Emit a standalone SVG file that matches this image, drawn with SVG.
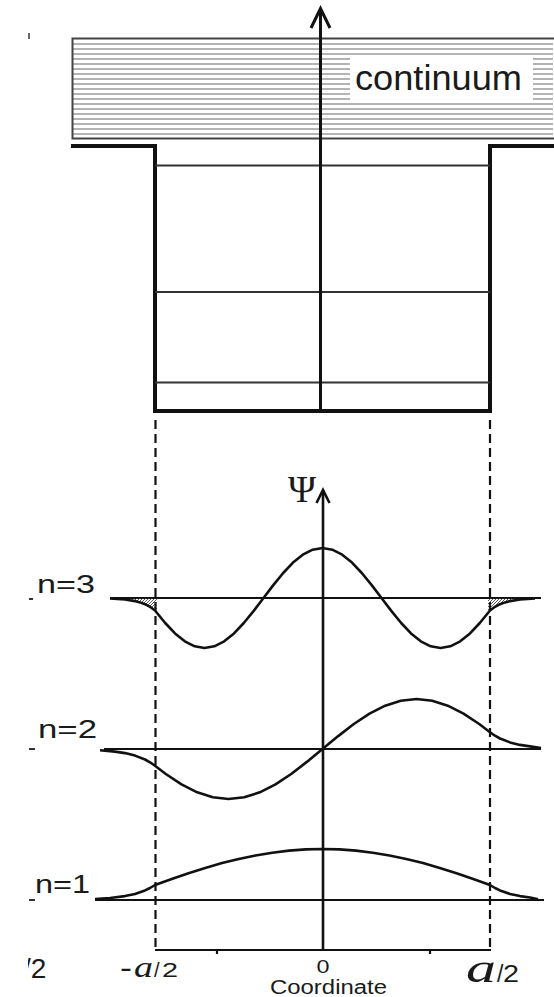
<svg xmlns="http://www.w3.org/2000/svg" width="554" height="997" viewBox="0 0 554 997">
<style>
.thick{stroke:#111;stroke-width:4;fill:none;stroke-linecap:square}
.lvl{stroke:#333;stroke-width:2;fill:none}
.axis{stroke:#111;stroke-width:2.6;fill:none}
.curve{stroke:#111;stroke-width:2.6;fill:none;stroke-linejoin:round}
.base{stroke:#111;stroke-width:2.2;fill:none}
.dash{stroke:#111;stroke-width:2.2;stroke-dasharray:9 5;fill:none}
.hatch{stroke:#b4b4b4;stroke-width:2}
.sans{font-family:"Liberation Sans",Arial,sans-serif;fill:#1a1a1a}
.serif{font-family:"Liberation Serif","Times New Roman",serif;fill:#1a1a1a;font-style:italic}
.psi{font-family:"Liberation Serif","Times New Roman",serif;fill:#1a1a1a}
</style>
<defs>
<pattern id="diag" patternUnits="userSpaceOnUse" width="3" height="3">
<path d="M-1,1 L1,-1 M0,3 L3,0 M2,4 L4,2" stroke="#333" stroke-width="0.8"/>
</pattern>
<clipPath id="clipFrag"><rect x="28" y="940" width="40" height="50"/></clipPath>
</defs>
<rect width="554" height="997" fill="#fff"/>

<g id="continuum">
<rect x="72.5" y="38.5" width="481" height="100" fill="#fff"/>
<g class="hatch">
<line x1="73" y1="44" x2="553" y2="44"/><line x1="73" y1="49" x2="553" y2="49"/>
<line x1="73" y1="54" x2="553" y2="54"/><line x1="73" y1="59" x2="553" y2="59"/>
<line x1="73" y1="64" x2="553" y2="64"/><line x1="73" y1="69" x2="553" y2="69"/>
<line x1="73" y1="74" x2="553" y2="74"/><line x1="73" y1="79" x2="553" y2="79"/>
<line x1="73" y1="84" x2="553" y2="84"/><line x1="73" y1="89" x2="553" y2="89"/>
<line x1="73" y1="94" x2="553" y2="94"/><line x1="73" y1="99" x2="553" y2="99"/>
<line x1="73" y1="104" x2="553" y2="104"/><line x1="73" y1="109" x2="553" y2="109"/>
<line x1="73" y1="114" x2="553" y2="114"/><line x1="73" y1="119" x2="553" y2="119"/>
<line x1="73" y1="124" x2="553" y2="124"/><line x1="73" y1="129" x2="553" y2="129"/>
<line x1="73" y1="134" x2="553" y2="134"/>
</g>
<path d="M554,38.5 H72.5 V138.5 H554" stroke="#444" stroke-width="2" fill="none"/>
<rect x="350" y="55" width="183" height="48" fill="#fff"/>
<text class="sans" x="355" y="90" font-size="35" textLength="167" lengthAdjust="spacingAndGlyphs">continuum</text>
</g>

<g id="well">
<path class="thick" d="M73,146 H155 V411 H490 V146 H552"/>
<line class="lvl" x1="155" y1="165.5" x2="490" y2="165.5"/>
<line class="lvl" x1="155" y1="292" x2="490" y2="292"/>
<line class="lvl" x1="155" y1="382.5" x2="490" y2="382.5"/>
</g>

<g id="energy-axis">
<line x1="320.5" y1="411" x2="320.5" y2="9" stroke="#111" stroke-width="3"/>
<polyline points="311,28 320.5,8.5 330,28" stroke="#111" stroke-width="3" fill="none"/>
</g>

<g id="connectors">
<line class="dash" x1="155.5" y1="420" x2="155.5" y2="950"/>
<line class="dash" x1="490" y1="420" x2="490" y2="950"/>
</g>

<g id="coord-axis">
<line class="base" x1="155" y1="950" x2="491" y2="950"/>
<line class="base" x1="217" y1="950" x2="217" y2="954"/>
<line class="base" x1="430" y1="950" x2="430" y2="954"/>
<line class="axis" x1="323" y1="950" x2="323" y2="491"/>
<polyline points="316.5,503 323,490 329.5,503" stroke="#111" stroke-width="2.6" fill="none"/>
<text class="psi" x="302" y="502" font-size="38" text-anchor="middle">Ψ</text>
<text class="sans" x="316.5" y="973" font-size="19" textLength="13" lengthAdjust="spacingAndGlyphs">0</text>
<text class="sans" x="270" y="994" font-size="20" textLength="117" lengthAdjust="spacingAndGlyphs">Coordinate</text>
<text class="sans" x="120" y="977" font-size="28" textLength="12" lengthAdjust="spacingAndGlyphs">-</text>
<text class="serif" x="134" y="977" font-size="30" textLength="19" lengthAdjust="spacingAndGlyphs">a</text>
<text class="sans" x="154" y="977" font-size="20">/</text>
<text class="sans" x="162" y="977" font-size="20" textLength="16" lengthAdjust="spacingAndGlyphs">2</text>
<text class="serif" x="466" y="982" font-size="42" textLength="30" lengthAdjust="spacingAndGlyphs">a</text>
<text class="sans" x="497" y="982" font-size="23">/</text>
<text class="sans" x="503" y="982" font-size="24" textLength="16" lengthAdjust="spacingAndGlyphs">2</text>
</g>

<g id="psi-n3">
<line class="base" x1="110" y1="598" x2="541" y2="598"/>
<path d="M128,598 L135,601.1 L140,602.4 L145,604.2 L150,606.8 L155,610.5 L157,613 L157,598 Z" fill="url(#diag)"/>
<path d="M517,598 L510,601.1 L505,602.4 L500,604.2 L495,606.8 L490,610.5 L488,613 L488,598 Z" fill="url(#diag)"/>
<polyline class="curve" points="110,598.5 125,599.5 135,601.1 140,602.4 145,604.2 150,606.8 155,610.5 165.2,623 175,633.4 184.8,641.3 194.7,646.3 204.5,648 214.3,646.3 224.2,641.3 234,633.4 243.8,623 253.7,610.9 263.5,598 273.3,585.1 283.2,573 293,562.6 302.8,554.7 312.7,549.7 322.5,548 332.3,549.7 342.2,554.7 352,562.6 361.8,573 371.7,585.1 381.5,598 391.3,610.9 401.2,623 411,633.4 420.8,641.3 430.7,646.3 440.5,648 450.3,646.3 460.2,641.3 470,633.4 479.8,623 490,610.5 495,606.8 500,604.2 505,602.4 510,601.1 520,599.5 535,598.5"/>
<text class="sans" x="37" y="593" font-size="26" textLength="58" lengthAdjust="spacingAndGlyphs">n=3</text>
</g>

<g id="psi-n2">
<line class="base" x1="104" y1="749" x2="541" y2="749"/>
<polyline class="curve" points="100,750.3 115,751.6 125,753.1 135,755.6 145,759.5 150,762.3 155,765.8 165.8,774 181.5,784.4 197.2,792.3 212.8,797.3 228.5,799 244.2,797.3 259.8,792.3 275.5,784.4 291.2,774 306.8,761.9 322.5,749 338.2,736.1 353.8,724 369.5,713.6 385.2,705.7 400.8,700.7 416.5,699 432.2,700.7 447.8,705.7 463.5,713.6 479.2,724 490,732.2 495,735.7 500,738.5 510,742.4 520,744.9 530,746.4 541,748"/>
<text class="sans" x="38" y="738" font-size="26" textLength="59" lengthAdjust="spacingAndGlyphs">n=2</text>
</g>

<g id="psi-n1">
<line class="base" x1="95" y1="900" x2="544" y2="900"/>
<polyline class="curve" points="95,899 110,898 125,896.1 135,893.9 145,890.4 150,888 155,885 171.75,879 188.5,873.2 205.25,867.9 222,863.1 238.75,859 255.5,855.5 272.25,852.7 289,850.6 305.75,849.4 322.5,849 339.25,849.4 356,850.6 372.75,852.7 389.5,855.5 406.25,859 423,863.1 439.75,867.9 456.5,873.2 473.25,879 490,885 495,888 500,890.4 510,893.9 520,896.1 530,897.5 538,899.3"/>
<text class="sans" x="35" y="893" font-size="26" textLength="55" lengthAdjust="spacingAndGlyphs">n=1</text>
</g>

<g id="fragments">
<line x1="29" y1="33" x2="29" y2="39" stroke="#333" stroke-width="1.5"/>
<line x1="29" y1="599" x2="33" y2="599" stroke="#333" stroke-width="2"/>
<line x1="29" y1="749" x2="35" y2="749" stroke="#333" stroke-width="2"/>
<line x1="29" y1="900" x2="35" y2="900" stroke="#333" stroke-width="2"/>
<text class="sans" x="23" y="978" font-size="28" clip-path="url(#clipFrag)">/2</text>
</g>
</svg>
